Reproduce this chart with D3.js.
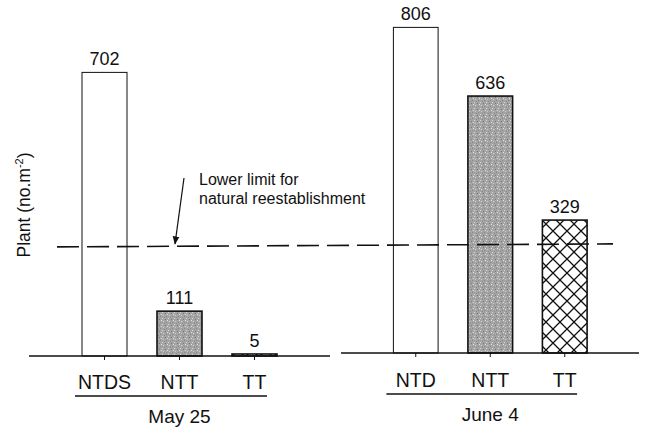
<!DOCTYPE html>
<html>
<head>
<meta charset="utf-8">
<script src="https://cdn.jsdelivr.net/npm/d3@7"></script>
<style>
  body { margin: 0; background: #fff; }
  text { font-family: "Liberation Sans", Arial, sans-serif; fill: #111; }
</style>
</head>
<body>
<svg id="chart" width="646" height="428"></svg>
<script>
// plant density per treatment, two sampling dates
var dates = ["May 25", "June 4"];
var mayTreat = ["NTDS", "NTT", "TT"];
var mayValues = [702, 111, 5];
var juneTreat = ["NTD", "NTT", "TT"];
var juneValues = [806, 636, 329];
var fills = ["white", "url(#stipple)", "url(#hatch)"];
var lowerLimit = 270;

var svg = d3.select("#chart");
var defs = svg.append("defs");

// grey stipple like the scanned screen tone
var st = defs.append("pattern").attr("id", "stipple")
    .attr("patternUnits", "userSpaceOnUse").attr("width", 6).attr("height", 6);
st.append("rect").attr("width", 6).attr("height", 6).attr("fill", "#a4a4a4");
[[0,0,"#d8d8d8"],[3,1,"#747474"],[1,3,"#cfcfcf"],[4,4,"#868686"],[5,2,"#e0e0e0"],[2,5,"#8c8c8c"]].forEach(function(p) {
    st.append("rect").attr("x", p[0]).attr("y", p[1]).attr("width", 1).attr("height", 1).attr("fill", p[2]);
});

// cross hatch
var ht = defs.append("pattern").attr("id", "hatch")
    .attr("patternUnits", "userSpaceOnUse").attr("width", 14).attr("height", 14);
ht.append("rect").attr("width", 14).attr("height", 14).attr("fill", "white");
ht.append("path").attr("d", "M0,0L14,14M14,0L0,14")
    .attr("stroke", "#111").attr("stroke-width", 1.3);

defs.append("marker").attr("id", "arrow")
    .attr("viewBox", "0 0 10 10").attr("refX", 9).attr("refY", 5)
    .attr("markerWidth", 7).attr("markerHeight", 7).attr("orient", "auto")
    .append("path").attr("d", "M0,1L10,5L0,9Z").attr("fill", "#111");

var panels = [
    { date: dates[0], cats: mayTreat, vals: mayValues, base: 356, range: [67, 292], axis: [29, 330], under: 396 },
    { date: dates[1], cats: juneTreat, vals: juneValues, base: 353, range: [378.5, 602], axis: [341, 639], under: 394 }
];

panels.forEach(function(p) {
    var x = d3.scaleBand().domain(p.cats).range(p.range).paddingInner(0.4).paddingOuter(0.2);
    var y = d3.scaleLinear().domain([0, 1000]).range([p.base, p.base - 404]);
    p.x = x; p.y = y;
    var g = svg.append("g");

    g.selectAll("rect.bar").data(p.vals).enter().append("rect")
        .attr("class", "bar")
        .attr("x", function(d, i) { return x(p.cats[i]); })
        .attr("y", function(d) { return y(d); })
        .attr("width", x.bandwidth())
        .attr("height", function(d) { return y(0) - y(d); })
        .attr("fill", function(d, i) { return fills[i]; })
        .attr("stroke", "#111")
        .attr("stroke-width", function(d, i) { return i == 0 ? 1 : 1.6; });

    g.selectAll("text.val").data(p.vals).enter().append("text")
        .attr("class", "val")
        .attr("x", function(d, i) { return x(p.cats[i]) + x.bandwidth() / 2; })
        .attr("y", function(d) { return y(d) - 7; })
        .attr("text-anchor", "middle").attr("font-size", 18)
        .text(function(d) { return d; });

    // baseline with small ticks
    g.append("line").attr("x1", p.axis[0]).attr("x2", p.axis[1])
        .attr("y1", y(0)).attr("y2", y(0)).attr("stroke", "#111").attr("stroke-width", 1.3);
    g.selectAll("line.tk").data(p.cats).enter().append("line")
        .attr("class", "tk")
        .attr("x1", function(d) { return x(d) + x.bandwidth() / 2; })
        .attr("x2", function(d) { return x(d) + x.bandwidth() / 2; })
        .attr("y1", y(0)).attr("y2", y(0) + 4)
        .attr("stroke", "#111").attr("stroke-width", 1);

    g.selectAll("text.cat").data(p.cats).enter().append("text")
        .attr("class", "cat")
        .attr("x", function(d) { return x(d) + x.bandwidth() / 2; })
        .attr("y", p.under - 7)
        .attr("text-anchor", "middle").attr("font-size", 19.5)
        .text(function(d) { return d; });

    var first = x(p.cats[0]) - 7, last = x(p.cats[p.cats.length - 1]) + x.bandwidth() - 10;
    g.append("line").attr("x1", first).attr("x2", last)
        .attr("y1", p.under).attr("y2", p.under).attr("stroke", "#111").attr("stroke-width", 1.3);
    g.append("text").attr("x", (x.range()[0] + x.range()[1]) / 2)
        .attr("y", p.under + 27).attr("text-anchor", "middle").attr("font-size", 19)
        .text(p.date);
});

// lower limit line across both panels
svg.append("line")
    .attr("x1", 57).attr("x2", 613)
    .attr("y1", panels[0].y(lowerLimit)).attr("y2", panels[1].y(lowerLimit))
    .attr("stroke", "#111").attr("stroke-width", 1.6).attr("stroke-dasharray", "22,8");

// annotation
var ann = svg.append("g");
ann.append("text").attr("x", 199).attr("y", 185).attr("font-size", 16).text("Lower limit for");
ann.append("text").attr("x", 199).attr("y", 204).attr("font-size", 16).text("natural reestablishment");
ann.append("line").attr("x1", 184).attr("y1", 178)
    .attr("x2", 175).attr("y2", panels[0].y(lowerLimit) - 3)
    .attr("stroke", "#111").attr("stroke-width", 1.2).attr("marker-end", "url(#arrow)");

// y label
var yl = svg.append("text").attr("transform", "translate(30,205) rotate(-90)")
    .attr("text-anchor", "middle").attr("font-size", 17.5);
yl.append("tspan").text("Plant (no.m");
yl.append("tspan").attr("font-size", 11).attr("dy", -7).text("-2");
yl.append("tspan").attr("dy", 7).text(")");
</script>
</body>
</html>
